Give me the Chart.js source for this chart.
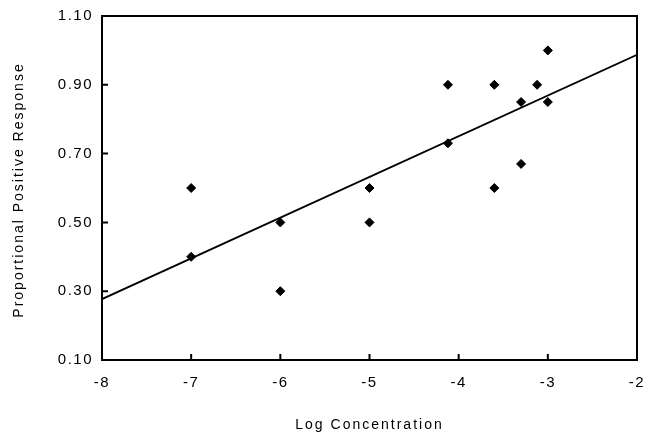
<!DOCTYPE html>
<html>
<head>
<meta charset="utf-8">
<script src="https://cdn.jsdelivr.net/npm/chart.js@4"></script>
<style>
  body { margin: 0; background: #fff; }
  .wrap { width: 647px; height: 433px; position: relative; }
</style>
</head>
<body>
<div class="wrap"><canvas id="doseChart"></canvas></div>
<script>
// Data
const logConc = [-7, -7, -6, -6, -5, -5, -4.12, -4.12, -3.6, -3.6, -3.3, -3.3, -3.12, -3, -3];
const response = [0.60, 0.40, 0.50, 0.30, 0.60, 0.50, 0.90, 0.73, 0.90, 0.60, 0.85, 0.67, 0.90, 1.00, 0.85];

// fitted line end points
const fitX = [-8, -2];
const fitY = [0.277, 0.987];

const xTicks = [-8, -7, -6, -5, -4, -3, -2];
const yTicks = [0.10, 0.30, 0.50, 0.70, 0.90, 1.10];

const FONT = '"Liberation Sans", Arial, sans-serif';

// frame, inward tick marks and spaced axis titles
const framePlugin = {
  id: 'frame',
  beforeDraw(chart) {
    chart.ctx.letterSpacing = '1.5px';
  },
  afterDraw(chart) {
    const { ctx, chartArea: a, scales } = chart;
    ctx.save();
    ctx.strokeStyle = '#000';
    ctx.lineWidth = 2;
    ctx.strokeRect(a.left, a.top, a.right - a.left, a.bottom - a.top);

    ctx.beginPath();
    xTicks.forEach(v => {
      const px = scales.x.getPixelForValue(v);
      ctx.moveTo(px, a.bottom);
      ctx.lineTo(px, a.bottom - 6);
    });
    yTicks.forEach(v => {
      const py = scales.y.getPixelForValue(v);
      ctx.moveTo(a.left, py);
      ctx.lineTo(a.left + 6, py);
    });
    ctx.stroke();

    ctx.fillStyle = '#000';
    ctx.font = '14px ' + FONT;
    ctx.letterSpacing = '2px';
    ctx.textAlign = 'center';
    ctx.textBaseline = 'middle';
    ctx.fillText('Log Concentration', (a.left + a.right) / 2, 425);

    ctx.translate(19, (a.top + a.bottom) / 2 + 2);
    ctx.rotate(-Math.PI / 2);
    ctx.fillText('Proportional Positive Response', 0, 0);
    ctx.restore();
  }
};

const ctx = document.getElementById('doseChart').getContext('2d');
const chart = new Chart(ctx, {
  type: 'scatter',
  data: {
    datasets: [
      {
        label: 'Observed',
        data: logConc.map((x, i) => ({ x: x, y: response[i] })),
        backgroundColor: '#000',
        borderColor: '#000',
        borderWidth: 1,
        pointStyle: 'rectRot',
        pointRadius: 4.5,
        order: 1
      },
      {
        label: 'Fit',
        type: 'line',
        data: fitX.map((x, i) => ({ x: x, y: fitY[i] })),
        borderColor: '#000',
        borderWidth: 1.8,
        pointRadius: 0,
        fill: false,
        order: 2
      }
    ]
  },
  options: {
    responsive: true,
    maintainAspectRatio: false,
    animation: false,
    layout: { padding: { top: 16, right: 10, left: 0, bottom: 0 } },
    scales: {
      x: {
        type: 'linear',
        min: -8,
        max: -2,
        grid: { display: false, drawTicks: false },
        border: { display: false },
        afterBuildTicks: s => { s.ticks = xTicks.map(v => ({ value: v })); },
        afterFit: s => { s.height = 73; s.paddingLeft = 0; s.paddingRight = 0; },
        ticks: {
          color: '#000',
          padding: 14,
          font: { family: FONT, size: 15 },
          callback: v => String(v)
        }
      },
      y: {
        type: 'linear',
        min: 0.1,
        max: 1.1,
        grid: { display: false, drawTicks: false },
        border: { display: false },
        afterBuildTicks: s => { s.ticks = yTicks.map(v => ({ value: v })); },
        afterFit: s => { s.width = 102; s.paddingTop = 0; s.paddingBottom = 0; },
        ticks: {
          color: '#000',
          padding: 9,
          font: { family: FONT, size: 15 },
          callback: v => Number(v).toFixed(2)
        }
      }
    },
    plugins: {
      legend: { display: false },
      tooltip: { enabled: false },
      title: { display: false }
    }
  },
  plugins: [framePlugin]
});
</script>
</body>
</html>
